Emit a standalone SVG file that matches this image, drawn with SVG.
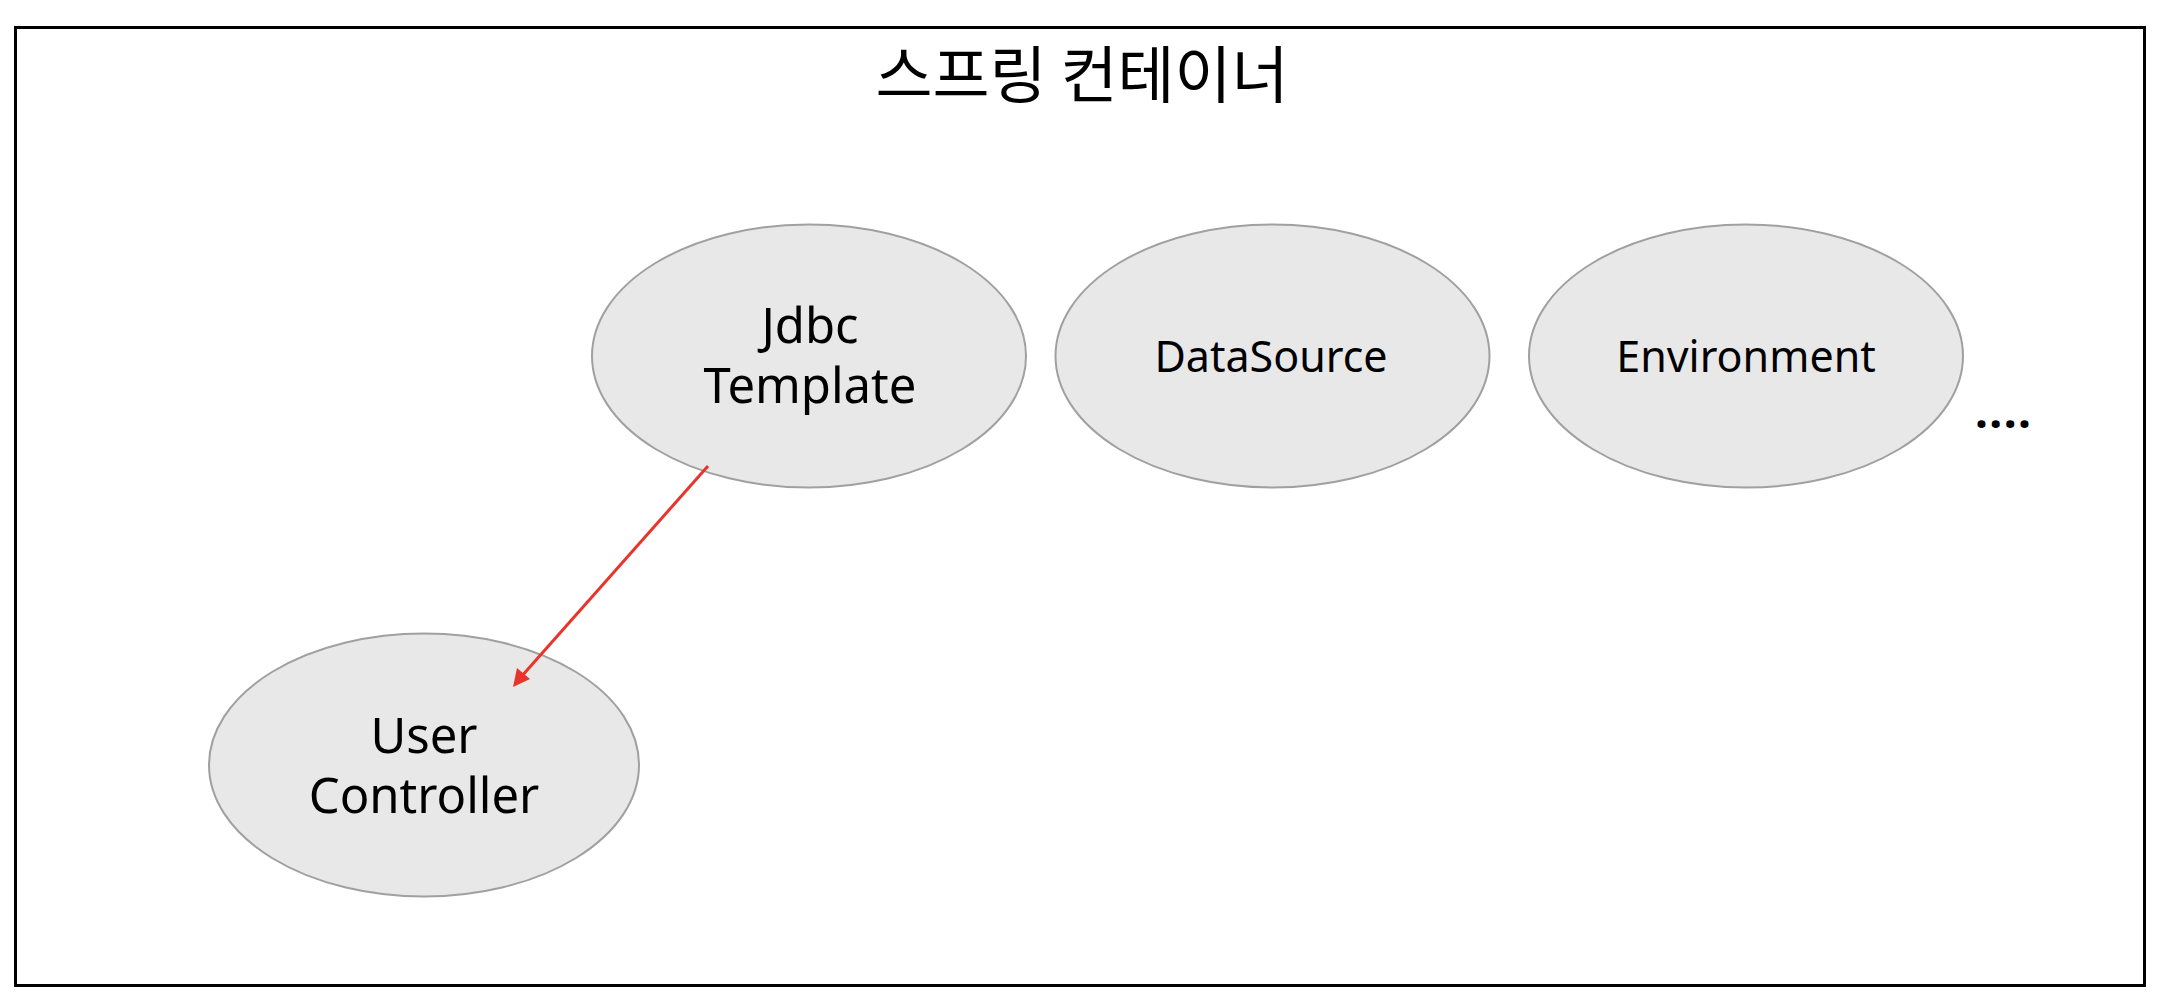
<svg xmlns="http://www.w3.org/2000/svg" width="2180" height="1006" viewBox="0 0 2180 1006">
  <style>
    .node ellipse { fill: #e8e8e8; stroke: #a0a0a0; stroke-width: 2; }
    .lbl { font-family: "Noto Sans", "Noto Sans CJK KR", sans-serif; fill: #000; text-anchor: middle; }
    .big { font-size: 49px; }
    .mid { font-size: 43px; }
    .title { font-family: "Noto Sans CJK KR", "Noto Sans", sans-serif; font-size: 62px; fill: #000; text-anchor: middle; }
    .conn { stroke: #e8342a; stroke-width: 3; fill: none; }
  </style>
  <rect x="0" y="0" width="2180" height="1006" fill="#ffffff"/>
  <g id="container">
    <rect x="15.5" y="27.5" width="2129" height="958" fill="#ffffff" stroke="#000" stroke-width="3"/>
    <text class="title" x="1082" y="98">스프링 컨테이너</text>
  </g>
  <g id="jdbc-template" class="node">
    <ellipse cx="809" cy="356" rx="217" ry="131.5"/>
    <text class="lbl big" x="810" y="343">Jdbc</text>
    <text class="lbl big" x="810" y="403">Template</text>
  </g>
  <g id="datasource" class="node">
    <ellipse cx="1272.5" cy="356" rx="217" ry="131.5"/>
    <text class="lbl mid" x="1271" y="372">DataSource</text>
  </g>
  <g id="environment" class="node">
    <ellipse cx="1746" cy="356" rx="217" ry="131.5"/>
    <text class="lbl mid" x="1746" y="372">Environment</text>
  </g>
  <g id="user-controller" class="node">
    <ellipse cx="424" cy="765" rx="215" ry="131.5"/>
    <text class="lbl big" x="424" y="753">User</text>
    <text class="lbl big" x="424" y="813">Controller</text>
  </g>
  <g id="more">
    <text x="1975" y="428" font-family="Noto Sans, sans-serif" font-weight="bold" font-size="46" textLength="56" lengthAdjust="spacing">....</text>
  </g>
  <g id="connectors">
    <line class="conn" x1="708" y1="466" x2="521" y2="677"/>
    <path d="M513,687 L517,668 L530,679 Z" fill="#e8342a"/>
  </g>
</svg>
